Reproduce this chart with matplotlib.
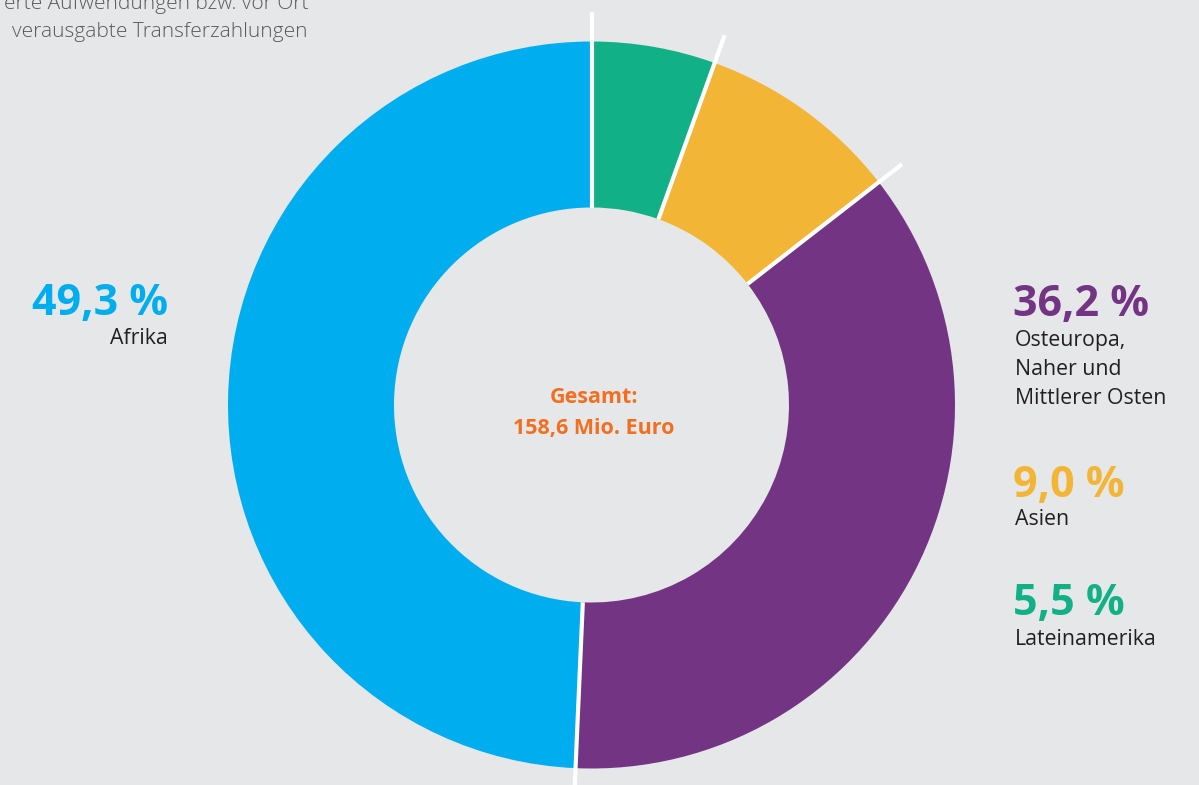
import numpy as np
import matplotlib.pyplot as plt

regions = ["Lateinamerika", "Asien", "Osteuropa,\nNaher und\nMittlerer Osten", "Afrika"]
shares = [5.5, 9.0, 36.2, 49.3]
colors = ["#12b087", "#f3b535", "#733583", "#00aeef"]
total_label = "Gesamt:\n158,6 Mio. Euro"
note = ["erte Aufwendungen bzw. vor Ort", "verausgabte Transferzahlungen"]

bg = "#e6e7e8"
W, H = 1199, 785

fig = plt.figure(figsize=(W / 100, H / 100), dpi=100, facecolor=bg)
ax = fig.add_axes([0, 0, 1, 1])
ax.set_facecolor(bg)

cx, cy = 591.5, H - 405
r_out, r_in = 363.5, 197.5

ax.pie(shares, colors=colors, startangle=90, counterclock=False,
       center=(cx, cy), radius=r_out,
       wedgeprops=dict(width=r_out - r_in, linewidth=0))

# white separators at every slice boundary, running past the ring
bounds = np.concatenate([[0], np.cumsum(shares)[:-1]])
for b in bounds:
    a = np.deg2rad(90 - b / sum(shares) * 360)
    ax.plot([cx + r_in * np.cos(a), cx + 393 * np.cos(a)],
            [cy + r_in * np.sin(a), cy + 393 * np.sin(a)],
            color="white", lw=3, solid_capstyle="butt")

ax.set_xlim(0, W)
ax.set_ylim(0, H)
ax.set_aspect("auto")
ax.axis("off")

pct = lambda v: f"{v:.1f}".replace(".", ",") + " %"
font = "Open Sans"
dark = "#231f20"

# Afrika on the left
ax.text(168, H - 315, pct(shares[3]), ha="right", va="baseline", color=colors[3],
        fontsize=31, fontweight="bold", family=font)
ax.text(168, H - 344, regions[3], ha="right", va="baseline", color=dark,
        fontsize=15.3, family=font)

# the rest on the right
right = [(2, 316, 346), (1, 497, 525), (0, 615, 645)]
for i, yp, yl in right:
    ax.text(1013, H - yp, pct(shares[i]), ha="left", va="baseline", color=colors[i],
            fontsize=31, fontweight="bold", family=font)
    for k, line in enumerate(regions[i].split("\n")):
        ax.text(1015, H - yl - 29 * k, line, ha="left", va="baseline", color=dark,
                fontsize=15.3, family=font)

# centre
for k, line in enumerate(total_label.split("\n")):
    ax.text(594, H - 403 - 31 * k, line, ha="center", va="baseline", color="#f26f21",
            fontsize=15.5, fontweight="bold", family=font)

# note in the top left corner (cut by the page edge)
for k, line in enumerate(note):
    ax.text(308, H - 9 - 28 * k, line, ha="right", va="baseline",
            color="#58595b", fontsize=15, fontweight="light", family=font)

fig.savefig("out.png", dpi=100, facecolor=bg)
